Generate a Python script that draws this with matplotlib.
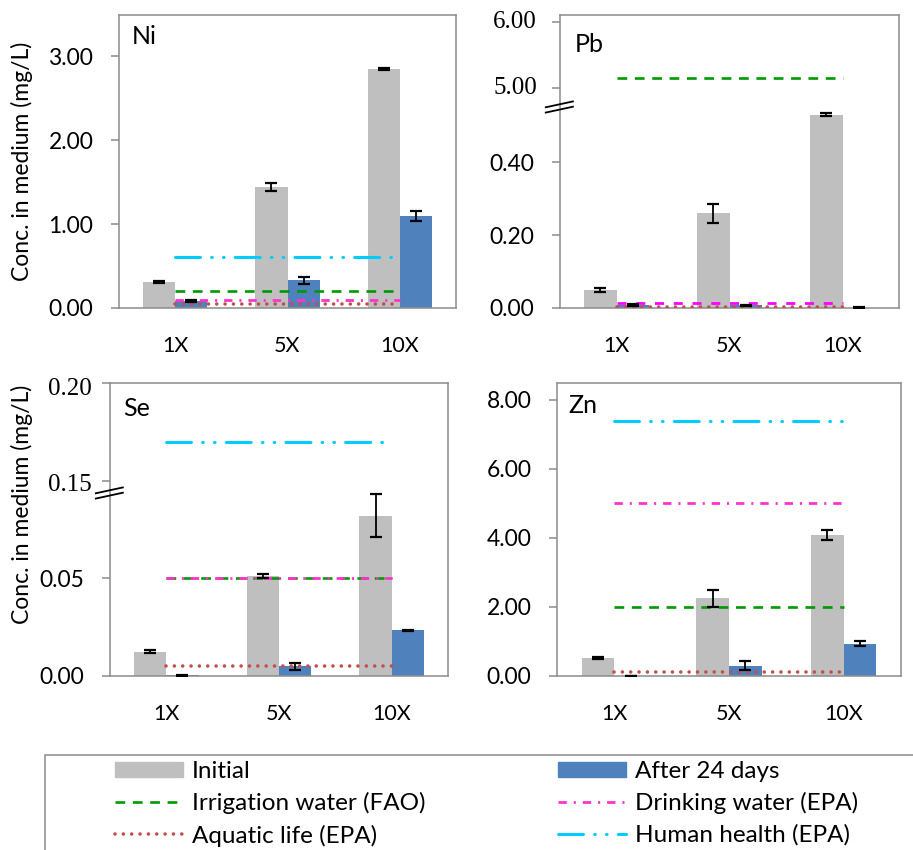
import numpy as np
import matplotlib.pyplot as plt
import matplotlib.transforms as mtransforms
from matplotlib.patches import Patch, Rectangle
from matplotlib.lines import Line2D

plt.rcParams['font.family'] = ['Lato', 'DejaVu Sans']
plt.rcParams['lines.scale_dashes'] = False

doses = ['1X', '5X', '10X']
limit_names = ['Irrigation water (FAO)', 'Drinking water (EPA)',
               'Aquatic life (EPA)', 'Human health (EPA)']

# Ni
ni_initial = [0.31, 1.44, 2.85]
ni_initial_err = [0.01, 0.05, 0.01]
ni_after = [0.08, 0.33, 1.10]
ni_after_err = [0.01, 0.04, 0.06]
ni_limits = [0.20, 0.10, 0.052, 0.61]

# Pb
pb_initial = [0.05, 0.26, 0.53]
pb_initial_err = [0.005, 0.026, 0.003]
pb_after = [0.008, 0.007, 0.001]
pb_after_err = [0.002, 0.002, 0.0005]
pb_limits = [5.15, 0.015, 0.0025, None]

# Se
se_initial = [0.0125, 0.051, 0.082]
se_initial_err = [0.0008, 0.001, 0.011]
se_after = [0.0003, 0.005, 0.0235]
se_after_err = [0.0001, 0.0018, 0.0003]
se_limits = [0.05, 0.05, 0.005, 0.17]

# Zn
zn_initial = [0.52, 2.25, 4.08]
zn_initial_err = [0.02, 0.25, 0.14]
zn_after = [0.01, 0.30, 0.94]
zn_after_err = [0.0, 0.14, 0.07]
zn_limits = [2.0, 5.0, 0.12, 7.4]

gray = '#BFBFBF'
blue = '#4F81BD'
line_styles = [
    dict(color='#009900', lw=1.9, dashes=(7, 5.5)),
    dict(color='#FF33CC', lw=2.0, dashes=(6, 5, 1.5, 5)),
    dict(color='#C0504D', lw=2.6, dashes=(0.01, 6), dash_capstyle='round'),
    dict(color='#00CCFF', lw=2.2, dashes=(18, 8, 0.5, 8, 0.5, 8), dash_capstyle='round'),
]
spine_col = '#8C8C8C'


def broken(b, B, r):
    def fwd(v):
        v = np.asarray(v, dtype=float)
        return np.where(v <= b, v, np.where(v >= B, b + (v - B) * r, b))

    def inv(u):
        u = np.asarray(u, dtype=float)
        return np.where(u <= b, u, B + (u - b) / r)
    return fwd, inv


def panel(ax, name, init, init_err, after, after_err, limits, title_xy):
    x = np.arange(len(doses))
    w = 0.286
    ax.bar(x - w / 2, init, w, color=gray, zorder=2)
    ax.bar(x + w / 2, after, w, color=blue, zorder=2)
    for i, lim in enumerate(limits):
        if lim is None:
            continue
        st = dict(line_styles[i])
        if name == 'Pb' and i == 1:
            st['color'] = '#FF00FF'
            st['dashes'] = (6.5, 7)
        ax.plot(x, [lim] * len(x), zorder=3, **st)
    ax.errorbar(x - w / 2, init, yerr=init_err, fmt='none', ecolor='black',
                elinewidth=1.3, capsize=4, capthick=1.6, zorder=4)
    ax.errorbar(x + w / 2, after, yerr=after_err, fmt='none', ecolor='black',
                elinewidth=1.3, capsize=4, capthick=1.6, zorder=4)
    ax.set_xlim(-0.5, 2.5)
    ax.set_xticks(x, doses)
    ax.tick_params(axis='x', length=0, pad=20, labelsize=15.5)
    ax.tick_params(axis='y', direction='out', length=6, width=1.1,
                   color=spine_col, pad=12.5, labelsize=16.5)
    for s in ax.spines.values():
        s.set_color(spine_col)
        s.set_linewidth(1.1)
    ax.text(title_xy[0], title_xy[1], name, transform=ax.transAxes,
            fontsize=18, va='baseline', ha='left')


def break_marks(ax, yc):
    for dy in (-0.009, 0.009):
        ax.plot([-0.042, 0.038], [yc + dy - 0.01, yc + dy + 0.01],
                transform=ax.transAxes, color='black', lw=1.3,
                clip_on=False, zorder=5)


def serif_label(ax, y, txt, xr):
    tr = mtransforms.blended_transform_factory(ax.transAxes, ax.transData)
    ax.text(xr, y, txt, transform=tr, ha='right', va='center',
            fontsize=18, family='Liberation Serif')


fig = plt.figure(figsize=(9.13, 8.5), dpi=100)
W, H = 913, 850


def add_axes(l, r, t, b):
    return fig.add_axes([l / W, 1 - b / H, (r - l) / W, (b - t) / H])


ax_ni = add_axes(119, 456, 15, 308)
ax_pb = add_axes(560, 899, 15, 308)
ax_se = add_axes(110, 448, 383, 676)
ax_zn = add_axes(557, 901, 383, 676)

# Ni
panel(ax_ni, 'Ni', ni_initial, ni_initial_err, ni_after, ni_after_err,
      ni_limits, (0.039, 0.901))
ax_ni.set_ylim(0, 3.49)
ax_ni.set_yticks([0, 1, 2, 3], ['0.00', '1.00', '2.00', '3.00'])
ax_ni.set_ylabel('Conc. in medium (mg/L)', fontsize=16.5)
ax_ni.yaxis.set_label_coords(-0.255, 0.5)

# Pb (broken axis)
ax_pb.set_yscale('function', functions=broken(0.5507, 4.712, 66 / 365))
panel(ax_pb, 'Pb', pb_initial, pb_initial_err, pb_after, pb_after_err,
      pb_limits, (0.044, 0.874))
ax_pb.set_ylim(0, 6.106)
ax_pb.set_yticks([0, 0.2, 0.4, 5, 6], ['0.00', '0.20', '0.40', '', ''])
serif_label(ax_pb, 6, '6.00', -0.068)
serif_label(ax_pb, 5, '5.00', -0.068)
break_marks(ax_pb, (308 - 107) / 293)

# Se (broken axis)
ax_se.set_yscale('function', functions=broken(0.093, 0.143, 1.0))
panel(ax_se, 'Se', se_initial, se_initial_err, se_after, se_after_err,
      se_limits, (0.038, 0.887))
ax_se.set_ylim(0, 0.1995)
ax_se.set_yticks([0, 0.05, 0.15, 0.2], ['0.00', '0.05', '', ''])
serif_label(ax_se, 0.197, '0.20', -0.053)
serif_label(ax_se, 0.148, '0.15', -0.053)
break_marks(ax_se, (676 - 493) / 293)
ax_se.set_ylabel('Conc. in medium (mg/L)', fontsize=16.5)
ax_se.yaxis.set_label_coords(-0.228, 0.587)

# Zn
panel(ax_zn, 'Zn', zn_initial, zn_initial_err, zn_after, zn_after_err,
      zn_limits, (0.032, 0.898))
ax_zn.set_ylim(0, 8.49)
ax_zn.set_yticks([0, 2, 4, 6, 8], ['0.00', '2.00', '4.00', '6.00', '8.00'])

# legend
handles = [Patch(color=gray)] + [Line2D([], [], **line_styles[0]),
                                 Line2D([], [], **line_styles[2])]
labels = ['Initial', limit_names[0], limit_names[2]]
handles2 = [Patch(color=blue), Line2D([], [], **line_styles[1]),
            Line2D([], [], **line_styles[3])]
labels2 = ['After 24 days', limit_names[1], limit_names[3]]
leg_kw = dict(loc='upper left', frameon=False, fontsize=17.5, borderpad=0,
              handlelength=2.8, handleheight=0.62, handletextpad=0.35,
              labelspacing=0.42, borderaxespad=0)
fig.legend(handles, labels, bbox_to_anchor=(115 / W, 1 - 761 / H), **leg_kw)
fig.legend(handles2, labels2, bbox_to_anchor=(558 / W, 1 - 761 / H), **leg_kw)
fig.add_artist(Rectangle((45 / W, -0.05), (W + 20 - 45) / W, 0.05 + (H - 755) / H,
                         transform=fig.transFigure, fill=False,
                         edgecolor=spine_col, lw=1.1))

plt.savefig('out.png', dpi=100)
